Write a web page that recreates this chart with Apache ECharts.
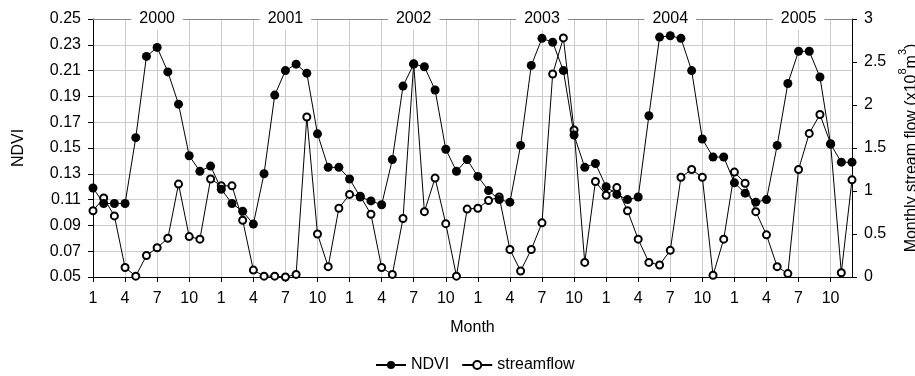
<!DOCTYPE html>
<html>
<head>
<meta charset="utf-8">
<script src="https://cdn.jsdelivr.net/npm/echarts@6/dist/echarts.min.js"></script>
<style>
  html, body { margin: 0; padding: 0; background: #fff; }
  #chart { width: 915px; height: 376px; }
</style>
</head>
<body>
<div id="chart"></div>
<script>
const years = ['2000', '2001', '2002', '2003', '2004', '2005'];
const months = [1, 2, 3, 4, 5, 6, 7, 8, 9, 10, 11, 12];

// monthly NDVI, Jan 2000 .. Dec 2005
const ndvi = [
  0.119, 0.107, 0.107, 0.107, 0.158, 0.221, 0.228, 0.209, 0.184, 0.144, 0.132, 0.136,
  0.118, 0.107, 0.101, 0.091, 0.130, 0.191, 0.210, 0.215, 0.208, 0.161, 0.135, 0.135,
  0.126, 0.112, 0.109, 0.106, 0.141, 0.198, 0.215, 0.213, 0.195, 0.149, 0.132, 0.141,
  0.128, 0.117, 0.110, 0.108, 0.152, 0.214, 0.235, 0.232, 0.210, 0.160, 0.135, 0.138,
  0.120, 0.114, 0.110, 0.112, 0.175, 0.236, 0.237, 0.235, 0.210, 0.157, 0.143, 0.143,
  0.123, 0.115, 0.108, 0.110, 0.152, 0.200, 0.225, 0.225, 0.205, 0.153, 0.139, 0.139
];

// monthly stream flow (x10^8 m^3)
const streamflow = [
  0.77, 0.92, 0.71, 0.11, 0.01, 0.25, 0.34, 0.45, 1.08, 0.47, 0.44, 1.14,
  1.06, 1.06, 0.66, 0.08, 0.01, 0.01, 0.00, 0.03, 1.86, 0.50, 0.12, 0.80,
  0.96, 0.94, 0.73, 0.11, 0.03, 0.68, 2.48, 0.76, 1.15, 0.62, 0.01, 0.79,
  0.80, 0.89, 0.93, 0.32, 0.07, 0.32, 0.63, 2.36, 2.78, 1.71, 0.17, 1.11,
  0.95, 1.04, 0.77, 0.44, 0.17, 0.14, 0.31, 1.16, 1.25, 1.16, 0.02, 0.44,
  1.22, 1.09, 0.76, 0.49, 0.12, 0.04, 1.25, 1.67, 1.89, 1.55, 0.05, 1.13
];

const categories = [];
years.forEach(y => months.forEach(m => categories.push(String(m))));

const font = 'Liberation Sans, Arial, sans-serif';
const every3 = (idx) => idx % 3 === 0;

const chart = echarts.init(document.getElementById('chart'));

const option = {
  animation: false,
  textStyle: { fontFamily: font, color: '#000' },
  grid: { left: 93, right: 63, top: 19, bottom: 99, outerBoundsMode: 'none', containLabel: false },
  legend: {
    data: ['NDVI', 'streamflow'],
    top: 352,
    left: 370,
    itemWidth: 30,
    itemHeight: 10,
    itemGap: 12,
    textStyle: { fontFamily: font, fontSize: 16, color: '#000' }
  },
  xAxis: [
    {
      type: 'category',
      data: categories,
      boundaryGap: false,
      name: 'Month',
      nameLocation: 'middle',
      nameGap: 43,
      nameTextStyle: { fontFamily: font, fontSize: 16, color: '#000' },
      axisLine: { lineStyle: { color: '#000', width: 1 } },
      axisTick: { interval: (idx) => every3(idx), length: 5, lineStyle: { color: '#000' } },
      axisLabel: {
        interval: (idx) => every3(idx),
        margin: 14,
        fontFamily: font,
        fontSize: 16,
        color: '#000'
      },
      splitLine: { show: true, interval: (idx) => every3(idx), lineStyle: { color: '#cccccc', width: 1 } }
    },
    {
      type: 'category',
      position: 'top',
      data: categories,
      boundaryGap: false,
      z: 1,
      axisLine: { lineStyle: { color: '#888', width: 1 } },
      axisTick: { show: false },
      axisLabel: {
        interval: (idx) => idx % 12 === 6,
        formatter: (val, idx) => years[Math.floor(idx / 12)],
        margin: -11,
        fontFamily: font,
        fontSize: 16,
        color: '#000',
        backgroundColor: '#fff',
        padding: [3, 8]
      },
      splitLine: { show: false }
    }
  ],
  yAxis: [
    {
      type: 'value',
      min: 0.05,
      max: 0.25,
      interval: 0.02,
      name: 'NDVI',
      nameLocation: 'middle',
      nameGap: 66,
      nameRotate: 90,
      nameTextStyle: { fontFamily: font, fontSize: 16, color: '#000' },
      axisLine: { show: true, lineStyle: { color: '#000', width: 1 } },
      axisTick: { show: true, length: 5, lineStyle: { color: '#000' } },
      axisLabel: {
        margin: 12,
        fontFamily: font,
        fontSize: 16,
        color: '#000',
        formatter: (v) => v.toFixed(2)
      },
      splitLine: { show: true, lineStyle: { color: '#cccccc', width: 1 } }
    },
    {
      type: 'value',
      position: 'right',
      min: 0,
      max: 3,
      interval: 0.5,
      name: '{t|Monthly stream flow (x10}{s|8}{t|m}{s|3}{t|)}',
      nameLocation: 'middle',
      nameGap: 41,
      nameRotate: 90,
      nameTextStyle: {
        fontFamily: font,
        color: '#000',
        rich: {
          t: { fontFamily: font, fontSize: 16, color: '#000', verticalAlign: 'bottom', lineHeight: 22 },
          s: { fontFamily: font, fontSize: 11, color: '#000', verticalAlign: 'top', lineHeight: 22 }
        }
      },
      axisLine: { show: true, lineStyle: { color: '#000', width: 1 } },
      axisTick: { show: true, length: 5, lineStyle: { color: '#000' } },
      axisLabel: {
        margin: 12,
        fontFamily: font,
        fontSize: 16,
        color: '#000'
      },
      splitLine: { show: false }
    }
  ],
  series: [
    {
      name: 'NDVI',
      type: 'line',
      xAxisIndex: 0,
      yAxisIndex: 0,
      data: ndvi,
      symbol: 'circle',
      symbolSize: 9,
      showSymbol: true,
      showAllSymbol: true,
      z: 4,
      itemStyle: { color: '#000' },
      lineStyle: { color: '#000', width: 1 }
    },
    {
      name: 'streamflow',
      type: 'line',
      xAxisIndex: 0,
      yAxisIndex: 1,
      data: streamflow,
      symbol: 'emptyCircle',
      symbolSize: 7,
      showSymbol: true,
      showAllSymbol: true,
      z: 3,
      itemStyle: { color: '#000', borderWidth: 1 },
      lineStyle: { color: '#000', width: 1 }
    }
  ]
};

chart.setOption(option);

window.addEventListener('resize', () => chart.resize());
</script>
</body>
</html>
